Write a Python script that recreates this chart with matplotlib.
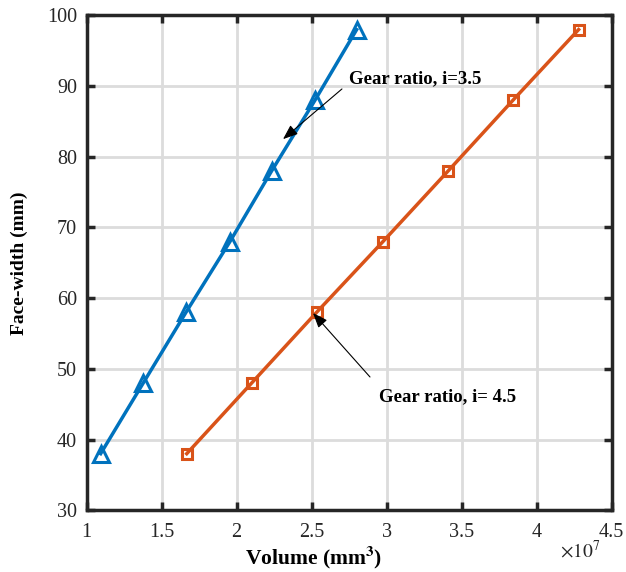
import numpy as np
import matplotlib.pyplot as plt

# data (volume in units of 1e7 mm^3)
face_width = [38, 48, 58, 68, 78, 88, 98]
vol_i35 = [1.093, 1.377, 1.662, 1.955, 2.233, 2.522, 2.800]
vol_i45 = [1.667, 2.100, 2.533, 2.975, 3.410, 3.842, 4.280]

plt.rcParams['font.family'] = ['Liberation Serif', 'DejaVu Serif']
plt.rcParams['mathtext.fontset'] = 'stix'

fig = plt.figure(figsize=(6.26, 5.72), dpi=100)
ax = fig.add_axes([0.1385, 0.108, 0.8385, 0.865])

ax.plot(vol_i35, face_width, color='#0072BD', linewidth=2.5, marker='^',
        markersize=11, markerfacecolor='none', markeredgewidth=2.2)
ax.plot(vol_i45, face_width, color='#D95319', linewidth=2.5, marker='s',
        markersize=7.5, markerfacecolor='none', markeredgewidth=2.2)

ax.set_xlim(1, 4.5)
ax.set_ylim(30, 100)
ax.set_xticks(np.arange(1, 4.51, 0.5))
ax.set_xticklabels(['1', '1.5', '2', '2.5', '3', '3.5', '4', '4.5'])
ax.set_yticks(np.arange(30, 101, 10))

ax.grid(True, color='#dcdcdc', linewidth=2)
ax.set_axisbelow(True)
for s in ax.spines.values():
    s.set_linewidth(2.5)
    s.set_color('#262626')
ax.tick_params(direction='in', length=6, width=2.5, top=True, right=True,
               labelsize=14.5, colors='#262626')
ax.tick_params(axis='x', pad=9)
ax.tick_params(axis='y', pad=7)

ax.set_xlabel('Volume (mm$^\\mathbf{3}$)', fontsize=15.5, fontweight='bold')
ax.xaxis.set_label_coords(0.433, -0.068)
ax.set_ylabel('Face-width (mm)', fontsize=14, fontweight='bold')
ax.yaxis.set_label_coords(-0.112, 0.5)
ax.text(0.978, -0.06, '$\\times10^7$', transform=ax.transAxes, fontsize=14,
        ha='right', va='top', color='#262626')

arrow = dict(arrowstyle='-|>,head_length=0.9,head_width=0.35', color='black',
             linewidth=0.8, shrinkA=0, shrinkB=0)
ax.annotate('', xy=(2.309, 82.5), xytext=(2.702, 89.6), arrowprops=arrow)
ax.text(2.748, 91.1, 'Gear ratio, i=3.5', fontsize=13.5, fontweight='bold', va='center')
ax.annotate('', xy=(2.509, 57.9), xytext=(2.889, 48.85), arrowprops=arrow)
ax.text(2.949, 46.0, 'Gear ratio, i= 4.5', fontsize=13.5, fontweight='bold', va='center')

fig.savefig('out.png', dpi=100)
